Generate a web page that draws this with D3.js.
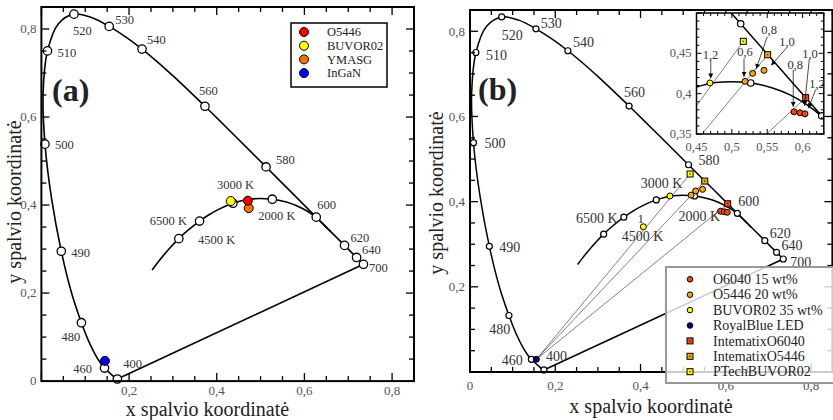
<!DOCTYPE html>
<html>
<head>
<meta charset="utf-8">
<script src="https://cdn.jsdelivr.net/npm/d3@7"></script>
<style>
  body { margin: 0; background: #fff; }
  svg { display: block; font-family: "Liberation Serif", "Times New Roman", serif; }
</style>
</head>
<body>
<svg id="chart" width="833" height="420"></svg>
<script>
// CIE 1931 spectral locus: [wavelength nm, x, y]
const spectralLocus = [
  [400, 0.1733, 0.0048], [410, 0.1726, 0.0048], [420, 0.1714, 0.0051], [430, 0.1689, 0.0069],
  [440, 0.1644, 0.0109], [450, 0.1566, 0.0177], [460, 0.1440, 0.0297], [465, 0.1355, 0.0399],
  [470, 0.1241, 0.0578], [475, 0.1096, 0.0868], [480, 0.0913, 0.1327], [485, 0.0687, 0.2007],
  [490, 0.0454, 0.2950], [495, 0.0235, 0.4127], [500, 0.0082, 0.5384], [505, 0.0039, 0.6548],
  [510, 0.0139, 0.7502], [515, 0.0389, 0.8120], [520, 0.0743, 0.8338], [525, 0.1142, 0.8262],
  [530, 0.1547, 0.8059], [535, 0.1929, 0.7816], [540, 0.2296, 0.7543], [545, 0.2658, 0.7243],
  [550, 0.3016, 0.6923], [555, 0.3373, 0.6589], [560, 0.3731, 0.6245], [565, 0.4087, 0.5896],
  [570, 0.4441, 0.5547], [575, 0.4788, 0.5202], [580, 0.5125, 0.4866], [585, 0.5448, 0.4544],
  [590, 0.5752, 0.4242], [595, 0.6029, 0.3965], [600, 0.6270, 0.3725], [610, 0.6658, 0.3340],
  [620, 0.6915, 0.3083], [630, 0.7079, 0.2920], [640, 0.7190, 0.2809], [650, 0.7260, 0.2740],
  [660, 0.7300, 0.2700], [680, 0.7334, 0.2666], [700, 0.7347, 0.2653]
];
const locusMarks = [400, 460, 480, 490, 500, 510, 520, 530, 540, 560, 580, 600, 620, 640, 700];

// Planckian locus: [temperature K, x, y] (low-T end)
const planckLocus = [
  [25000, 0.2525, 0.2523], [15000, 0.2637, 0.2674], [10000, 0.2807, 0.2884], [8000, 0.2952, 0.3048],
  [6500, 0.3135, 0.3237], [5500, 0.3325, 0.3411], [4500, 0.3608, 0.3636], [4000, 0.3805, 0.3768],
  [3500, 0.4053, 0.3907], [3000, 0.4369, 0.4041], [2500, 0.4770, 0.4137], [2000, 0.5267, 0.4133],
  [1800, 0.5586, 0.4068], [1600, 0.5822, 0.3985], [1400, 0.6058, 0.3865], [1250, 0.6270, 0.3718],
  [1100, 0.6450, 0.3543], [1000, 0.6600, 0.3395]
];
const planckMarks = [6500, 4500, 3000, 2000];

// panel (a) measured points
const samplesA = ["O5446", "BUVOR02", "YMASG", "InGaN"];
const samplesAx = [0.471, 0.432, 0.473, 0.145];
const samplesAy = [0.410, 0.409, 0.393, 0.046];
const samplesAColor = ["#ff0000", "#ffff00", "#ff7000", "#0000ff"];

// panel (b) measured points [x, y]
const o6040 = [[0.5878, 0.3775], [0.5963, 0.3763], [0.6034, 0.3750]];
const o6040Thick = ["0,8", "1,0", "1,2"];
const o5446 = [[0.5186, 0.4153], [0.5294, 0.4252], [0.5454, 0.4289]];
const o5446Thick = ["0,6", "0,8", "1,0"];
const buvor02 = [[0.4066, 0.3410], [0.4690, 0.4133]];
const buvor02Thick = ["1", "1,2"];
const royalBlue = [[0.1556, 0.0298]];
const intematixO6040 = [[0.6044, 0.3950]];
const intematixO5446 = [[0.5506, 0.4483]];
const ptechBUVOR02 = [[0.5162, 0.4649]];

const seriesB = [
  { label: "O6040 15 wt%", pts: o6040, shape: "circle", color: "#ff4500" },
  { label: "O5446 20 wt%", pts: o5446, shape: "circle", color: "#ffa500" },
  { label: "BUVOR02 35 wt%", pts: buvor02, shape: "circle", color: "#ffff00" },
  { label: "RoyalBlue LED", pts: royalBlue, shape: "circle", color: "#000080" },
  { label: "IntematixO6040", pts: intematixO6040, shape: "square", color: "#ff4500" },
  { label: "IntematixO5446", pts: intematixO5446, shape: "square", color: "#ffa500" },
  { label: "PTechBUVOR02", pts: ptechBUVOR02, shape: "square", color: "#ffff00" }
];

// label offsets (px) relative to the marker: [dx, dy, anchor]
const labelPosA = {
  400: [6, -11], 460: [-12.5, 5, "end"], 480: [-20, 18], 490: [10, 6], 500: [10, 5],
  510: [10, 6], 520: [-1, 21], 530: [6, -2], 540: [5, -5], 560: [-6, -11], 580: [10, -3],
  600: [1, -8], 620: [6, -3], 640: [5.5, -3.5], 700: [5.5, 7.5],
  6500: [-29, -14], 4500: [-1.5, 23], 3000: [-16, -14], 2000: [-14, 21]
};
const labelPosB = {
  400: [2, -9], 460: [-8.7, 5.7, "end"], 480: [-19.6, 18.5], 490: [10, 6], 500: [11, 5.5],
  510: [10, 7.5], 520: [0, 23], 530: [4.7, -0.7], 540: [5, -4], 560: [-5, -9], 580: [10, 0],
  600: [1, -7], 620: [5, -2.7], 640: [5, -2.3], 700: [7, 8],
  6500: [-27.6, -11.6], 4500: [-2, 24], 3000: [-15.5, -12], 2000: [-16, 24.7]
};
// inset thickness notes: [series, index, text dx, text dy, arrow from dx,dy, to dx,dy]
const insetNotes = [
  [buvor02, 1, 0.6, -24.4, 0.8, -23, 0.8, -4.5],
  [o5446, 0, 0, -25, -1, -23, -1, -4.5],
  [o5446, 1, 16.5, -39, 14.6, -36.6, 3.5, -4.5],
  [o5446, 2, 23, -24, 22.7, -22.6, 7.2, -5],
  [o6040, 0, 1.3, -43, -0.7, -42, -0.7, -5],
  [o6040, 1, 10, -54.5, 9.3, -53.3, 4.5, -7],
  [o6040, 2, 12, -26, 10.7, -24.4, 3.5, -5.5]
];
const thickText = new Map([[o6040, o6040Thick], [o5446, o5446Thick], [buvor02, buvor02Thick]]);

const fmt = d3.formatLocale({ decimal: ",", thousands: ".", grouping: [3], currency: ["", ""] }).format(".2~f");

const svg = d3.select("#chart");
const defs = svg.append("defs");
defs.append("marker").attr("id", "arrow")
  .attr("viewBox", "0 0 10 10").attr("refX", 10).attr("refY", 5)
  .attr("markerWidth", 5).attr("markerHeight", 5)
  .attr("markerUnits", "userSpaceOnUse").attr("orient", "auto")
  .append("path").attr("d", "M0,0L10,5L0,10z").attr("fill", "#000");

const locusAt = wl => spectralLocus.find(d => d[0] === wl);
const planckAt = t => planckLocus.find(d => d[0] === t);

function drawLoci(g, x, y, sw) {
  const line = d3.line().x(d => x(d[1])).y(d => y(d[2])).curve(d3.curveCatmullRom.alpha(0.5));
  g.append("path").attr("d", line(spectralLocus))
    .attr("fill", "none").attr("stroke", "#000").attr("stroke-width", sw);
  const ends = [spectralLocus[0], spectralLocus[spectralLocus.length - 1]];
  g.append("path").attr("d", d3.line().x(d => x(d[1])).y(d => y(d[2]))(ends))
    .attr("fill", "none").attr("stroke", "#000").attr("stroke-width", sw);
  g.append("path").attr("d", line(planckLocus))
    .attr("fill", "none").attr("stroke", "#000").attr("stroke-width", sw);
}

function drawWhiteMarks(g, x, y, r, sw) {
  const pts = locusMarks.map(locusAt).concat(planckMarks.map(planckAt));
  g.selectAll(null).data(pts).enter().append("circle")
    .attr("cx", d => x(d[1])).attr("cy", d => y(d[2])).attr("r", r)
    .attr("fill", "#fff").attr("stroke", "#000").attr("stroke-width", sw);
}

function drawMarkLabels(g, x, y, pos, size) {
  const pts = locusMarks.map(locusAt).concat(planckMarks.map(planckAt));
  g.selectAll(null).data(pts).enter().append("text")
    .attr("x", d => x(d[1]) + pos[d[0]][0])
    .attr("y", d => y(d[2]) + pos[d[0]][1])
    .attr("text-anchor", d => pos[d[0]][2] || "start")
    .attr("font-size", size).attr("fill", "#333")
    .text(d => d[0] >= 1000 ? d[0] + " K" : d[0]);
}

function symbol(g, shape, cx, cy, color, s) {
  if (shape === "circle") {
    g.append("circle").attr("cx", cx).attr("cy", cy).attr("r", s)
      .attr("fill", color).attr("stroke", "#000").attr("stroke-width", 1);
  } else {
    g.append("rect").attr("x", cx - s).attr("y", cy - s).attr("width", 2 * s).attr("height", 2 * s)
      .attr("fill", color).attr("stroke", "#000").attr("stroke-width", 1);
    g.append("rect").attr("x", cx - 0.7).attr("y", cy - 0.7).attr("width", 1.4).attr("height", 1.4)
      .attr("fill", "#333");
  }
}

function drawSeriesB(g, x, y, rc, rs) {
  // thin lines from the LED to each phosphor
  const led = royalBlue[0];
  [ptechBUVOR02, intematixO5446, intematixO6040].forEach(s => {
    g.append("line").attr("x1", x(led[0])).attr("y1", y(led[1]))
      .attr("x2", x(s[0][0])).attr("y2", y(s[0][1]))
      .attr("stroke", "#000").attr("stroke-width", 0.5);
  });
  return () => {
    seriesB.forEach(s => s.pts.forEach(p =>
      symbol(g, s.shape, x(p[0]), y(p[1]), s.color, s.shape === "circle" ? rc : rs)));
  };
}

function drawFrame(g, x, y, o) {
  const [x0, x1] = x.range(), [y0, y1] = y.range();
  const isMajor = (v, step) => Math.abs(v / step - Math.round(v / step)) < 1e-6;
  const ticks = (d, step) => d3.range(Math.round(d[0] / step), Math.round(d[1] / step) + 1).map(i => +(i * step).toFixed(4));
  ticks(x.domain(), o.minor).forEach(v => {
    const len = isMajor(v, o.major) ? o.majorLen : o.minorLen;
    const px = x(v);
    g.append("line").attr("x1", px).attr("x2", px).attr("y1", y0).attr("y2", y0 - len)
      .attr("stroke", "#000").attr("stroke-width", o.tickW);
    g.append("line").attr("x1", px).attr("x2", px).attr("y1", y1).attr("y2", y1 + len)
      .attr("stroke", "#000").attr("stroke-width", o.tickW);
  });
  ticks(y.domain(), o.minor).forEach(v => {
    const len = isMajor(v, o.major) ? o.majorLen : o.minorLen;
    const py = y(v);
    g.append("line").attr("y1", py).attr("y2", py).attr("x1", x0).attr("x2", x0 + len)
      .attr("stroke", "#000").attr("stroke-width", o.tickW);
    g.append("line").attr("y1", py).attr("y2", py).attr("x1", x1).attr("x2", x1 - len)
      .attr("stroke", "#000").attr("stroke-width", o.tickW);
  });
  g.append("rect").attr("x", x0).attr("y", y1).attr("width", x1 - x0).attr("height", y0 - y1)
    .attr("fill", "none").attr("stroke", "#000").attr("stroke-width", o.frameW);
  g.selectAll(null).data(o.xLabels).enter().append("text")
    .attr("x", d => x(d)).attr("y", y0 + o.xLabelDy).attr("text-anchor", "middle")
    .attr("font-size", o.font).attr("fill", "#555").text(fmt);
  g.selectAll(null).data(o.yLabels).enter().append("text")
    .attr("x", x0 - o.yLabelDx).attr("y", d => y(d)).attr("dy", "0.33em").attr("text-anchor", "end")
    .attr("font-size", o.font).attr("fill", "#555").text(fmt);
}

function axisTitles(g, cx, by, tx, cy) {
  g.append("text").attr("x", cx).attr("y", by).attr("text-anchor", "middle")
    .attr("font-size", 20).attr("fill", "#222").text("x spalvio koordinatė");
  g.append("text").attr("transform", `translate(${tx},${cy}) rotate(-90)`).attr("text-anchor", "middle")
    .attr("font-size", 20).attr("fill", "#222").text("y spalvio koordinatė");
}

// ---------- panel (a) ----------
const xA = d3.scaleLinear().domain([0, 0.85]).range([41.4, 414]);
const yA = d3.scaleLinear().domain([0, 0.85]).range([381.1, 7]);
const gA = svg.append("g");
drawLoci(gA, xA, yA, 1.6);
drawWhiteMarks(gA, xA, yA, 4.2, 1.3);
[2, 1, 0, 3].forEach(i => symbol(gA, "circle", xA(samplesAx[i]), yA(samplesAy[i]), samplesAColor[i], 4.5));
drawMarkLabels(gA, xA, yA, labelPosA, 12.5);
drawFrame(gA, xA, yA, {
  minor: 0.05, major: 0.2, majorLen: 8, minorLen: 5, tickW: 1.3, frameW: 2, font: 13,
  xLabels: [0.2, 0.4, 0.6, 0.8], yLabels: [0, 0.2, 0.4, 0.6, 0.8], xLabelDy: 14, yLabelDx: 5
});
gA.append("text").attr("x", 52).attr("y", 101).attr("font-size", 32).attr("font-weight", "bold")
  .attr("fill", "#222").text("(a)");
// legend (a)
const legA = gA.append("g");
legA.append("rect").attr("x", 291).attr("y", 23).attr("width", 96).attr("height", 64)
  .attr("fill", "#fff").attr("stroke", "#000").attr("stroke-width", 1.5);
samplesA.forEach((name, i) => {
  const cy = 32 + i * 13.7;
  symbol(legA, "circle", 304, cy, samplesAColor[i], 4.5);
  legA.append("text").attr("x", 327).attr("y", cy).attr("dy", "0.33em")
    .attr("font-size", 12.5).attr("fill", "#222").text(name);
});
axisTitles(gA, 207.5, 416, 21, 202);

// ---------- panel (b) ----------
const xB = d3.scaleLinear().domain([0, 0.85]).range([470, 832.4]);
const yB = d3.scaleLinear().domain([0, 0.85]).range([372, 10]);
const gB = svg.append("g");
drawLoci(gB, xB, yB, 1.5);
const pointsB = drawSeriesB(gB, xB, yB, 3, 3);
drawWhiteMarks(gB, xB, yB, 3, 1.2);
pointsB();
drawMarkLabels(gB, xB, yB, labelPosB, 14);
gB.append("text").attr("x", xB(buvor02[0][0]) - 2.6).attr("y", yB(buvor02[0][1]) - 3.7)
  .attr("text-anchor", "middle").attr("font-size", 13).attr("fill", "#333").text(buvor02Thick[0]);
drawFrame(gB, xB, yB, {
  minor: 0.05, major: 0.2, majorLen: 8, minorLen: 5, tickW: 1.3, frameW: 2, font: 13,
  xLabels: [0, 0.2, 0.4, 0.6, 0.8], yLabels: [0.2, 0.4, 0.6, 0.8], xLabelDy: 18, yLabelDx: 5
});
gB.append("text").attr("x", 478).attr("y", 100).attr("font-size", 32).attr("font-weight", "bold")
  .attr("fill", "#222").text("(b)");
axisTitles(gB, 651, 413, 443, 193);

// inset
const xI = d3.scaleLinear().domain([0.45, 0.63]).range([696.5, 823.8]);
const yI = d3.scaleLinear().domain([0.35, 0.5]).range([134, 13]);
const gI = svg.append("g");
defs.append("clipPath").attr("id", "insetClip").append("rect")
  .attr("x", 696.5).attr("y", 13).attr("width", 823.8 - 696.5).attr("height", 121);
gI.append("rect").attr("x", 696.5).attr("y", 13).attr("width", 823.8 - 696.5).attr("height", 121)
  .attr("fill", "#fff");
const gIc = gI.append("g").attr("clip-path", "url(#insetClip)");
drawLoci(gIc, xI, yI, 1.5);
const pointsI = drawSeriesB(gIc, xI, yI, 3, 3);
drawWhiteMarks(gIc, xI, yI, 3.2, 1.2);
pointsI();
drawFrame(gI, xI, yI, {
  minor: 0.01, major: 0.05, majorLen: 5, minorLen: 3, tickW: 1, frameW: 1.5, font: 12.5,
  xLabels: [0.45, 0.5, 0.55, 0.6], yLabels: [0.35, 0.4, 0.45], xLabelDy: 17, yLabelDx: 5
});
insetNotes.forEach(n => {
  const p = n[0][n[1]], px = xI(p[0]), py = yI(p[1]);
  gI.append("text").attr("x", px + n[2]).attr("y", py + n[3]).attr("text-anchor", "middle")
    .attr("font-size", 12.5).attr("fill", "#333").text(thickText.get(n[0])[n[1]]);
  gI.append("line").attr("x1", px + n[4]).attr("y1", py + n[5]).attr("x2", px + n[6]).attr("y2", py + n[7])
    .attr("stroke", "#000").attr("stroke-width", 0.7).attr("marker-end", "url(#arrow)");
});

// legend (b)
const legB = svg.append("g");
legB.append("rect").attr("x", 666).attr("y", 267).attr("width", 180).attr("height", 116)
  .attr("fill", "#fff").attr("fill-opacity", 0.8).attr("stroke", "#999").attr("stroke-width", 2);
seriesB.forEach((s, i) => {
  const cy = 279.3 + i * 15.4;
  symbol(legB, s.shape, 690, cy, s.color, s.shape === "circle" ? 2.8 : 3);
  legB.append("text").attr("x", 713).attr("y", cy).attr("dy", "0.33em")
    .attr("font-size", 14).attr("fill", "#222").text(s.label);
});
</script>
</body>
</html>
